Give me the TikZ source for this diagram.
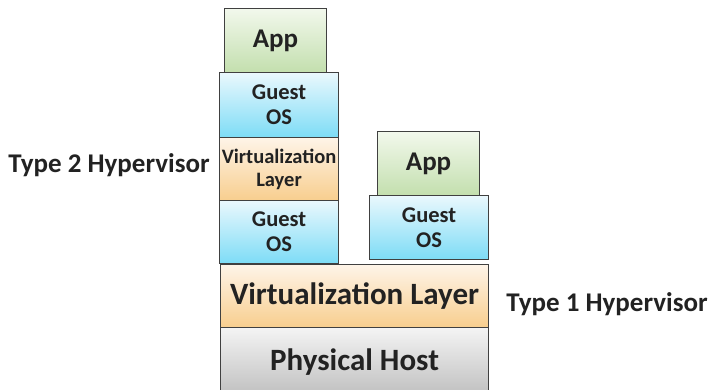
\documentclass[tikz,border=0pt]{standalone}
\usepackage{fontspec}
\setmainfont{Carlito}
\definecolor{edge}{HTML}{404040}
\definecolor{txt}{HTML}{222222}
\definecolor{apptop}{HTML}{F2F8EC}
\definecolor{appbot}{HTML}{C3DFAE}
\definecolor{ostop}{HTML}{EAF8FD}
\definecolor{osbot}{HTML}{7DDCF6}
\definecolor{vltop}{HTML}{FEF4E8}
\definecolor{vlbot}{HTML}{F8CE8E}
\definecolor{phtop}{HTML}{F4F4F4}
\definecolor{phbot}{HTML}{BEBEBE}
\tikzset{
  layer/.style={draw=edge, line width=1.1pt, inner sep=0pt, anchor=north west, text=txt, font=\bfseries, align=center},
  appbox/.style={layer, top color=apptop, bottom color=appbot},
  osbox/.style={layer, top color=ostop, bottom color=osbot},
  vlbox/.style={layer, top color=vltop, bottom color=vlbot},
  phbox/.style={layer, top color=phtop, bottom color=phbot},
  lbl/.style={text=txt, font=\bfseries\fontsize{27}{30}\selectfont, inner sep=0pt}
}
\begin{document}
\begin{tikzpicture}[x=1pt,y=-1pt]
\useasboundingbox (0,0) rectangle (711,389);
\clip (0,0) rectangle (711,389);
% right stack base
\node[phbox, minimum width=268pt, minimum height=70pt, font=\bfseries\fontsize{31}{33}\selectfont] (ph) at (220,327) {\raisebox{-7pt}{Physical Host}};
\node[vlbox, minimum width=268pt, minimum height=63pt, font=\bfseries\fontsize{31}{33}\selectfont] (vl) at (220,264) {Virtualization Layer};
% left stack
\node[osbox, minimum width=119pt, minimum height=63pt, font=\bfseries\fontsize{22.5}{25}\selectfont] (os2) at (219,200) {Guest\\OS};
\node[vlbox, minimum width=119pt, minimum height=63pt, font=\bfseries\fontsize{20.5}{23}\selectfont] (vl2) at (219,137) {Virtualization\\Layer};
\node[osbox, minimum width=119pt, minimum height=65pt, font=\bfseries\fontsize{22.5}{25}\selectfont] (os1) at (219,72) {Guest\\OS};
\node[appbox, minimum width=102pt, minimum height=64pt, font=\bfseries\fontsize{27}{29}\selectfont] (app1) at (224,8) {App};
% right guest
\node[osbox, minimum width=119pt, minimum height=64pt, font=\bfseries\fontsize{22.5}{25}\selectfont] (os3) at (369,195) {Guest\\OS};
\node[appbox, minimum width=102pt, minimum height=64pt, font=\bfseries\fontsize{27}{29}\selectfont] (app2) at (377,131) {App};
% labels
\node[lbl] (t2) at (109,165) {Type 2 Hypervisor};
\node[lbl] (t1) at (607,304) {Type 1 Hypervisor};
\end{tikzpicture}
\end{document}
